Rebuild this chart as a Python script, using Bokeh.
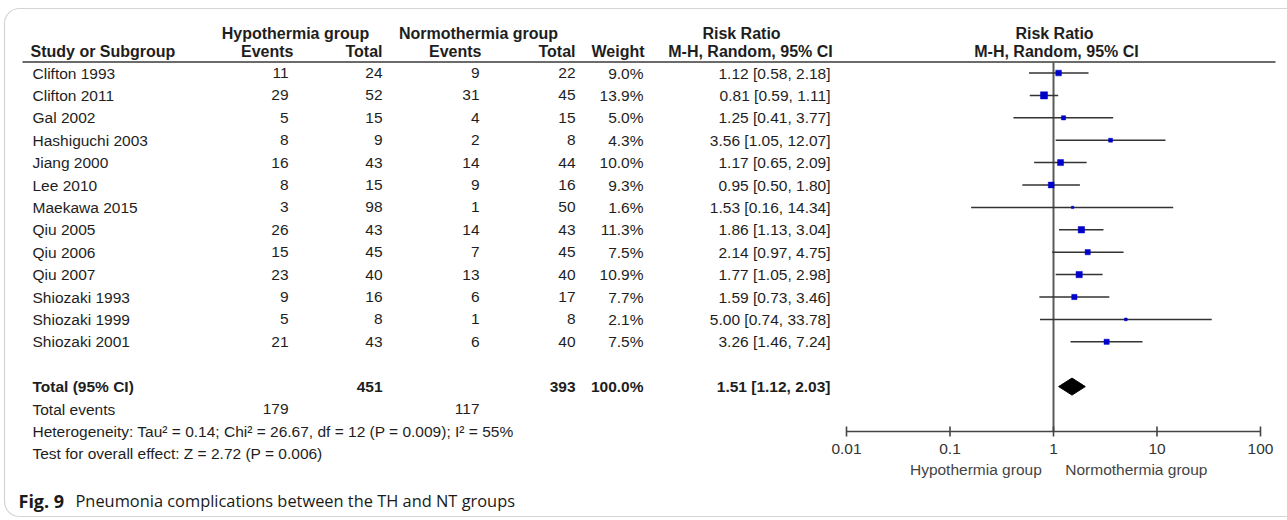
import math
from bokeh.plotting import figure
from bokeh.models import Range1d, LogScale, ColumnDataSource, BoxAnnotation
from bokeh.core.properties import value
from bokeh.embed import file_html
from bokeh.resources import INLINE

# ---------------- data ----------------
studies = ["Clifton 1993", "Clifton 2011", "Gal 2002", "Hashiguchi 2003", "Jiang 2000",
           "Lee 2010", "Maekawa 2015", "Qiu 2005", "Qiu 2006", "Qiu 2007",
           "Shiozaki 1993", "Shiozaki 1999", "Shiozaki 2001"]
th_events = [11, 29, 5, 8, 16, 8, 3, 26, 15, 23, 9, 5, 21]
th_total = [24, 52, 15, 9, 43, 15, 98, 43, 45, 40, 16, 8, 43]
nt_events = [9, 31, 4, 2, 14, 9, 1, 14, 7, 13, 6, 1, 6]
nt_total = [22, 45, 15, 8, 44, 16, 50, 43, 45, 40, 17, 8, 40]
weight = [9.0, 13.9, 5.0, 4.3, 10.0, 9.3, 1.6, 11.3, 7.5, 10.9, 7.7, 2.1, 7.5]
rr = [1.12, 0.81, 1.25, 3.56, 1.17, 0.95, 1.53, 1.86, 2.14, 1.77, 1.59, 5.00, 3.26]
rr_lo = [0.58, 0.59, 0.41, 1.05, 0.65, 0.50, 0.16, 1.13, 0.97, 1.05, 0.73, 0.74, 1.46]
rr_hi = [2.18, 1.11, 3.77, 12.07, 2.09, 1.80, 14.34, 3.04, 4.75, 2.98, 3.46, 33.78, 7.24]

total_th = 451
total_nt = 393
events_th = 179
events_nt = 117
pooled = 1.51
pooled_lo = 1.12
pooled_hi = 2.03
axis_ticks = [0.01, 0.1, 1, 10, 100]
axis_labels = ["0.01", "0.1", "1", "10", "100"]
heterogeneity = "Heterogeneity: Tau\u00b2 = 0.14; Chi\u00b2 = 26.67, df = 12 (P = 0.009); I\u00b2 = 55%"
overall = "Test for overall effect: Z = 2.72 (P = 0.006)"

# ---------------- layout ----------------
W, H = 1287, 520
FONT = value("Liberation Sans")
FS = "15.5px"
FSB = "16px"
TXT = "#1e1e1e"

p = figure(width=W, height=H, output_backend="svg", toolbar_location=None,
           x_range=Range1d(0, W), y_range=Range1d(H, 0),
           x_axis_type=None, y_axis_type=None, min_border=0)
p.outline_line_color = None
p.grid.visible = False
p.background_fill_color = "white"
p.border_fill_color = "white"

# log scale for forest plot: 0.01 at px 846, 100 at px 1260
x001, x100 = 846.0, 1260.0
dec = (x100 - x001) / 4.0
lstart = 10 ** (-2 - x001 / dec)
lend = 10 ** (2 + (W - x100) / dec)
p.extra_x_ranges = {"rr": Range1d(lstart, lend)}
p.extra_x_scales = {"rr": LogScale()}

# border box
p.add_layout(BoxAnnotation(left=4, right=1302, top=8, bottom=516, fill_color=None,
                           line_color="#707070", line_width=1.2, border_radius=15))

row0, dy = 72.5, 22.4
ys = [row0 + i * dy for i in range(len(studies))]
y_total = row0 + 14 * dy
y_tev = row0 + 15 * dy
y_het = row0 + 16 * dy
y_test = row0 + 17 * dy
y_h1, y_h2, y_line = 33, 51, 61.5
axis_y = 431
XL = 32


def txt(x, y, t, align="left", bold=False, size=FS, color=TXT, font=FONT, rng="default"):
    p.text(x=x if isinstance(x, list) else [x],
           y=y if isinstance(y, list) else [y],
           text=t if isinstance(t, list) else [t],
           text_align=align, text_baseline="middle", text_font=font,
           text_font_size=size, text_color=color, x_range_name=rng,
           text_font_style="bold" if bold else "normal")


# headers
txt(295, y_h1, "Hypothermia group", "center", True, FSB)
txt(478, y_h1, "Normothermia group", "center", True, FSB)
txt(741, y_h1, "Risk Ratio", "center", True, FSB)
txt(1054, y_h1, "Risk Ratio", "center", True, FSB)
txt(30, y_h2, "Study or Subgroup", "left", True, FSB)
txt(293, y_h2, "Events", "right", True, FSB)
txt(382, y_h2, "Total", "right", True, FSB)
txt(481, y_h2, "Events", "right", True, FSB)
txt(575, y_h2, "Total", "right", True, FSB)
txt(644, y_h2, "Weight", "right", True, FSB)
txt(750, y_h2, "M-H, Random, 95% CI", "center", True, FSB)
txt(1056, y_h2, "M-H, Random, 95% CI", "center", True, FSB)
p.segment(x0=[22], y0=[y_line], x1=[1275], y1=[y_line], line_color="#3a3a3a", line_width=1.5)

# study rows
n = len(studies)
txt([XL] * n, ys, studies, "left")
txt([288] * n, ys, [str(v) for v in th_events], "right")
txt([382] * n, ys, [str(v) for v in th_total], "right")
txt([479] * n, ys, [str(v) for v in nt_events], "right")
txt([575] * n, ys, [str(v) for v in nt_total], "right")
txt([643] * n, ys, [f"{w:.1f}%" for w in weight], "right")
txt([830] * n, ys, [f"{r:.2f} [{a:.2f}, {b:.2f}]" for r, a, b in zip(rr, rr_lo, rr_hi)], "right")

# totals
txt(XL, y_total, "Total (95% CI)", "left", True)
txt(382, y_total, str(total_th), "right", True)
txt(575, y_total, str(total_nt), "right", True)
txt(643, y_total, "100.0%", "right", True)
txt(830, y_total, f"{pooled:.2f} [{pooled_lo:.2f}, {pooled_hi:.2f}]", "right", True)
txt(XL, y_tev, "Total events", "left")
txt(288, y_tev, str(events_th), "right")
txt(479, y_tev, str(events_nt), "right")
txt(XL, y_het, heterogeneity, "left")
txt(XL, y_test, overall, "left")

# caption
cap_font = value("Open Sans")
txt(18, 500, "Fig. 9", "left", True, "18px", "#1a1a1a", cap_font)
txt(75, 500, "Pneumonia complications between the TH and NT groups", "left", False, "16.4px",
    "#1a1a1a", cap_font)

# ---------------- forest plot ----------------
src = ColumnDataSource(dict(y=ys, rr=rr, lo=rr_lo, hi=rr_hi,
                            size=[1.9 * math.sqrt(w) for w in weight]))
# line of no effect
p.segment(x0=[1], y0=[y_line], x1=[1], y1=[axis_y], x_range_name="rr",
          line_color="#5a5a5a", line_width=2)
p.segment(x0="lo", y0="y", x1="hi", y1="y", source=src, x_range_name="rr",
          line_color="#333333", line_width=1.5)
p.scatter(x="rr", y="y", size="size", marker="square", source=src, x_range_name="rr",
          fill_color="#0000cc", line_color="#0000cc", line_width=0.5)

# pooled diamond
p.patch(x=[pooled_lo, pooled, pooled_hi, pooled],
        y=[y_total, y_total - 8.5, y_total, y_total + 8.5],
        x_range_name="rr", fill_color="black", line_color="black")

# axis
p.segment(x0=[axis_ticks[0]], y0=[axis_y], x1=[axis_ticks[-1]], y1=[axis_y], x_range_name="rr",
          line_color="#444444", line_width=1.6)
p.segment(x0=axis_ticks, y0=[axis_y - 5] * 5, x1=axis_ticks, y1=[axis_y + 5] * 5,
          x_range_name="rr", line_color="#444444", line_width=1.6)
txt(axis_ticks, [axis_y + 17] * 5, axis_labels, "center", False, FS, "#333333", FONT, "rr")
txt(0.77, axis_y + 38, "Hypothermia group", "right", False, FS, "#444444", FONT, "rr")
txt(1.3, axis_y + 38, "Normothermia group", "left", False, FS, "#444444", FONT, "rr")

open("out.html", "w").write(file_html(p, INLINE))
